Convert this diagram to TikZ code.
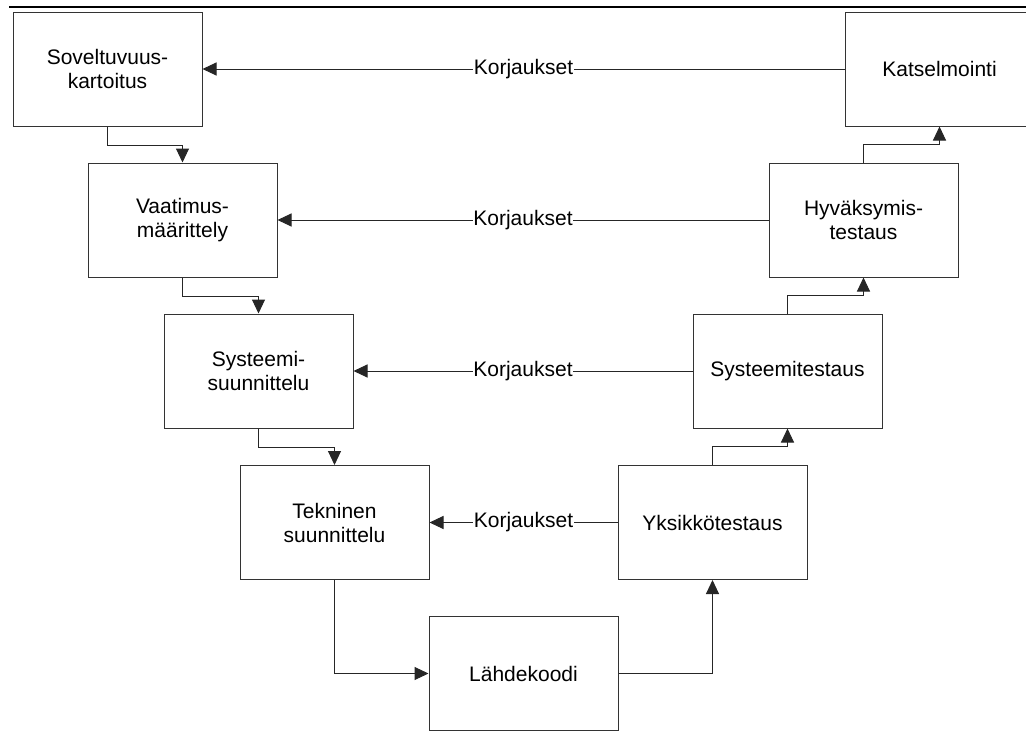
\documentclass[tikz,border=0pt]{standalone}
\usepackage{fontspec}
\setmainfont{Liberation Sans}
\usetikzlibrary{arrows.meta}
\begin{document}
\begin{tikzpicture}[x=1pt,y=-1pt,
  phase/.style={draw=black!80, line width=1pt, fill=white,
    minimum width=189pt, minimum height=114pt, inner sep=0pt,
    align=center, font=\fontsize{21}{24}\selectfont},
  flow/.style={draw=black!85, line width=1pt,
    -{Triangle[length=14pt,width=13pt]}},
  fixlabel/.style={fill=white, inner sep=0.5pt, font=\fontsize{21}{24}\selectfont}]
  \useasboundingbox (0,0) rectangle (1026,731);

  % header rule
  \coordinate (ruleL) at (9,7);
  \coordinate (ruleR) at (1026,7);
  \draw[line width=2pt] (ruleL) -- (ruleR);

  % left branch: specification and design
  \node[phase] (b1) at (107.5,69)  {Soveltuvuus-\\kartoitus};
  \node[phase] (b2) at (182.5,220) {Vaatimus-\\määrittely};
  \node[phase] (b3) at (258.5,371) {Systeemi-\\suunnittelu};
  \node[phase] (b4) at (334.5,522.5) {Tekninen\\suunnittelu};
  % bottom
  \node[phase] (b5) at (523.5,673.5) {Lähdekoodi};
  % right branch: testing and review
  \node[phase] (r4) at (712.5,522.5) {Yksikkötestaus};
  \node[phase] (r3) at (787.5,371) {Systeemitestaus};
  \node[phase] (r2) at (863.5,220) {Hyväksymis-\\testaus};
  \node[phase] (r1) at (939.5,69)  {Katselmointi};

  % downward flow
  \draw[flow] (b1.south) -- ++(0,18.5) -| (b2.north);
  \draw[flow] (b2.south) -- ++(0,18.5) -| (b3.north);
  \draw[flow] (b3.south) -- ++(0,19) -| (b4.north);
  \draw[flow] (b4.south) |- (b5.west);
  % upward flow
  \draw[flow] (b5.east) -| (r4.south);
  \draw[flow] (r4.north) -- ++(0,-19) -| (r3.south);
  \draw[flow] (r3.north) -- ++(0,-18.5) -| (r2.south);
  \draw[flow] (r2.north) -- ++(0,-18.5) -| (r1.south);

  % corrections fed back
  \draw[flow] (r1.west) -- node[fixlabel] {Korjaukset} (b1.east);
  \draw[flow] (r2.west) -- node[fixlabel] {Korjaukset} (b2.east);
  \draw[flow] (r3.west) -- node[fixlabel] {Korjaukset} (b3.east);
  \draw[flow] (r4.west) -- node[fixlabel] {Korjaukset} (b4.east);
\end{tikzpicture}
\end{document}
